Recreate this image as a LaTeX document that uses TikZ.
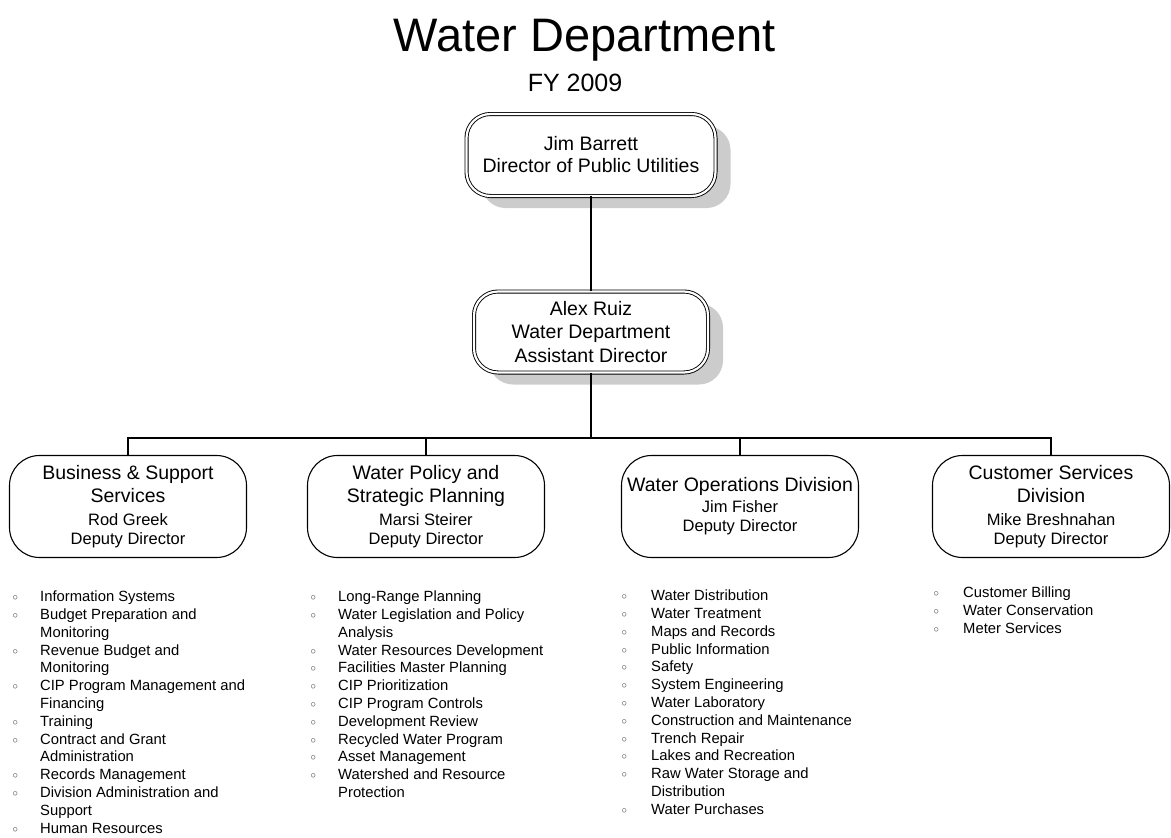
\documentclass[tikz,border=0pt]{standalone}
\usepackage{fontspec}
\usepackage{graphicx}
\setmainfont{Liberation Sans}
\usetikzlibrary{shadows}

\newcommand{\namefont}{\fontsize{16.5}{20}\selectfont}
\newcommand{\bul}{\hspace*{2.5pt}\raisebox{1pt}{\color{black!70}\scalebox{0.75}{$\circ$}}}

\begin{document}
\begin{tikzpicture}[x=1pt,y=-1pt,
  topbox/.style={draw, fill=white, line width=0.9pt, double=white, double distance=2.2pt,
    rounded corners=24pt, minimum width=249pt, minimum height=82pt, align=center,
    font=\fontsize{19.5}{22}\selectfont,
    drop shadow={shadow xshift=15pt, shadow yshift=-12pt, fill=black!20, opacity=1}},
  divbox/.style={draw, line width=1.1pt, rounded corners=30pt, minimum width=237pt,
    minimum height=102pt, align=center, inner sep=0pt,
    font=\fontsize{19.5}{23.5}\selectfont},
  duties/.style={anchor=north west, inner sep=0pt, font=\fontsize{14.8}{17.8}\selectfont},
  link/.style={line width=1.1pt}]

  \useasboundingbox (0,0) rectangle (1171,838);

  % title
  \node[anchor=base, font=\fontsize{47}{56}\selectfont] (title) at (585,51) {Water Department};
  \node[anchor=base, font=\fontsize{25}{30}\selectfont] (fy) at (575,91) {FY 2009};

  % heads
  \node[topbox] (director) at (591,155) {Jim Barrett\\Director of Public Utilities};
  \node[topbox, font=\fontsize{19.5}{23.5}\selectfont, minimum width=234pt, minimum height=81pt]
    (asst) at (591,332) {Alex Ruiz\\Water Department\\Assistant Director};

  % divisions
  \node[divbox] (bss) at (128,506.5)
    {Business \& Support\\Services\\[-1pt]{\namefont Rod Greek}\\[-4pt]{\namefont Deputy Director}};
  \node[divbox] (wpsp) at (426,506.5)
    {Water Policy and\\Strategic Planning\\[-1pt]{\namefont Marsi Steirer}\\[-4pt]{\namefont Deputy Director}};
  \node[divbox] (wod) at (740,506.5)
    {Water Operations Division\\[-3pt]{\namefont Jim Fisher}\\[-4pt]{\namefont Deputy Director}};
  \node[divbox] (csd) at (1051,506.5)
    {Customer Services\\Division\\[-1pt]{\namefont Mike Breshnahan}\\[-4pt]{\namefont Deputy Director}};

  % connectors
  \coordinate (bus) at (591,438);
  \draw[link] (director) -- (asst);
  \draw[link] (asst) -- (bus);
  \draw[link] (bss) |- (bus);
  \draw[link] (wpsp) |- (bus);
  \draw[link] (wod) |- (bus);
  \draw[link] (csd) |- (bus);

  % duties
  \node[duties] (bsslist) at (10,589) {\begin{tabular}{@{}p{30pt}@{}l@{}}
    \bul & Information Systems\\
    \bul & Budget Preparation and\\
         & Monitoring\\
    \bul & Revenue Budget and\\
         & Monitoring\\
    \bul & CIP Program Management and\\
         & Financing\\
    \bul & Training\\
    \bul & Contract and Grant\\
         & Administration\\
    \bul & Records Management\\
    \bul & Division Administration and\\
         & Support\\
    \bul & Human Resources
  \end{tabular}};

  \node[duties] (wpsplist) at (308,589) {\begin{tabular}{@{}p{30pt}@{}l@{}}
    \bul & Long-Range Planning\\
    \bul & Water Legislation and Policy\\
         & Analysis\\
    \bul & Water Resources Development\\
    \bul & Facilities Master Planning\\
    \bul & CIP Prioritization\\
    \bul & CIP Program Controls\\
    \bul & Development Review\\
    \bul & Recycled Water Program\\
    \bul & Asset Management\\
    \bul & Watershed and Resource\\
         & Protection
  \end{tabular}};

  \node[duties] (wodlist) at (619,588) {\begin{tabular}{@{}p{32pt}@{}l@{}}
    \bul & Water Distribution\\
    \bul & Water Treatment\\
    \bul & Maps and Records\\
    \bul & Public Information\\
    \bul & Safety\\
    \bul & System Engineering\\
    \bul & Water Laboratory\\
    \bul & Construction and Maintenance\\
    \bul & Trench Repair\\
    \bul & Lakes and Recreation\\
    \bul & Raw Water Storage and\\
         & Distribution\\
    \bul & Water Purchases
  \end{tabular}};

  \node[duties] (csdlist) at (931,585) {\begin{tabular}{@{}p{32pt}@{}l@{}}
    \bul & Customer Billing\\
    \bul & Water Conservation\\
    \bul & Meter Services
  \end{tabular}};

\end{tikzpicture}
\end{document}
